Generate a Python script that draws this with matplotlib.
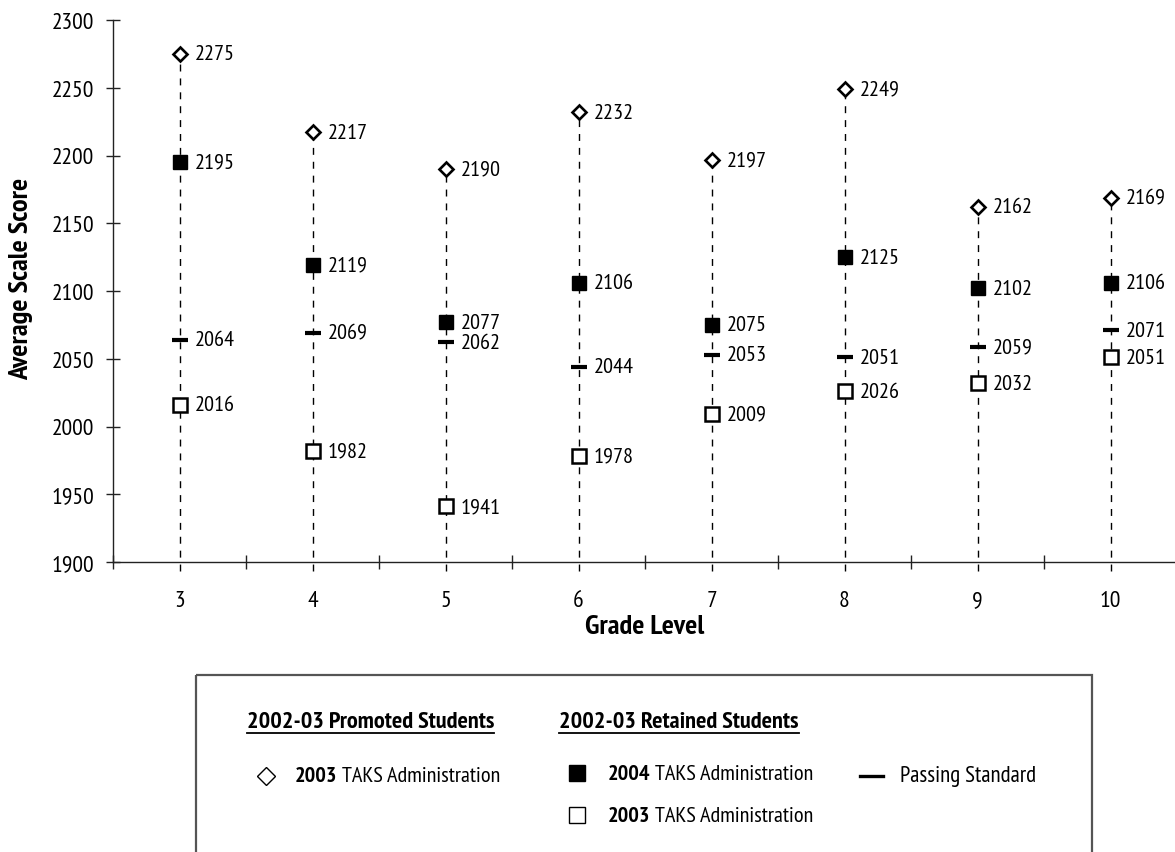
import numpy as np
import matplotlib
matplotlib.use("Agg")
import matplotlib.pyplot as plt
from matplotlib import font_manager
from matplotlib.patches import Rectangle

# pick a narrow family that has both regular and bold installed
weights = {}
for f in font_manager.fontManager.ttflist:
    if f.style == 'normal':
        weights.setdefault(f.name, set()).add(f.weight)
narrow = 'Liberation Sans'
for cand in ['Liberation Sans Narrow', 'Arial Narrow', 'PT Sans Narrow',
             'Archivo Narrow', 'Roboto Condensed', 'Barlow Semi Condensed']:
    w = weights.get(cand, set())
    if 400 in w and 700 in w:
        narrow = cand
        break
plt.rcParams['font.family'] = [narrow, 'DejaVu Sans']

# data
grades = [3, 4, 5, 6, 7, 8, 9, 10]
promoted_2003 = [2275, 2217, 2190, 2232, 2197, 2249, 2162, 2169]
retained_2004 = [2195, 2119, 2077, 2106, 2075, 2125, 2102, 2106]
passing_std = [2064, 2069, 2062, 2044, 2053, 2051, 2059, 2071]
retained_2003 = [2016, 1982, 1941, 1978, 2009, 2026, 2032, 2051]
y_ticks = [1900, 1950, 2000, 2050, 2100, 2150, 2200, 2250, 2300]

W, H = 1175, 853
fig = plt.figure(figsize=(W / 100, H / 100), dpi=100)
ax = fig.add_axes([113 / W, 1 - 563 / H, 1064 / W, 542 / H])

# dashed guide from the top marker down a bit past the axis
ax.vlines(grades, 1893, promoted_2003, colors='black', linestyles=(0, (5, 5)),
          lw=1, clip_on=False, zorder=1)

ax.plot(grades, promoted_2003, ls='none', marker='D', ms=7, mfc='white',
        mec='black', mew=1.9, zorder=3)
ax.plot(grades, retained_2004, ls='none', marker='s', ms=10, mfc='black',
        mec='black', mew=1, zorder=3)
ax.plot(grades, passing_std, ls='none', marker='_', ms=11, mew=3,
        color='black', zorder=3)
ax.plot(grades, retained_2003, ls='none', marker='s', ms=9.5, mfc='white',
        mec='black', mew=1.8, zorder=3)

for series in (promoted_2003, retained_2004, passing_std, retained_2003):
    for g, v in zip(grades, series):
        ax.annotate(str(v), (g, v), xytext=(11, 0), textcoords='offset points',
                    va='center', ha='left', fontsize=16)

ax.set_xlim(2.5, 10.5)
ax.set_ylim(1900, 2300)
ax.spines['top'].set_visible(False)
ax.spines['right'].set_visible(False)
for s in ('left', 'bottom'):
    ax.spines[s].set_color('#222222')
    ax.spines[s].set_linewidth(1)

ax.set_yticks(y_ticks)
ax.tick_params(axis='y', direction='inout', length=10, width=1, labelsize=17,
               pad=8.5, color='#222222')
ax.set_xticks(grades)
ax.set_xticklabels([str(g) for g in grades])
ax.set_xticks([g - 0.5 for g in grades] + [grades[-1] + 0.5], minor=True)
ax.tick_params(axis='x', which='major', length=0, pad=20, labelsize=17)
ax.tick_params(axis='x', which='minor', direction='inout', length=10.5,
               width=1, color='#222222')

fig.text(21 / W, 1 - 279 / H, 'Average Scale Score', rotation=90, ha='center',
         va='center', fontsize=20.5, fontweight='bold')
fig.text(645 / W, 1 - 627 / H, 'Grade Level', ha='center', va='center',
         fontsize=20.5, fontweight='bold')

# legend box drawn in pixel space
lax = fig.add_axes([0, 0, 1, 1])
lax.set_xlim(0, W)
lax.set_ylim(H, 0)
lax.set_axis_off()
lax.add_patch(Rectangle((196, 676), 1092 - 196, 200, fill=False,
                        ec='#555555', lw=1.6, clip_on=False))

headers = []
headers.append(lax.text(247, 723, '2002-03 Promoted Students', fontsize=17.5,
                        fontweight='bold', va='center', ha='left'))
headers.append(lax.text(559, 723, '2002-03 Retained Students', fontsize=17.5,
                        fontweight='bold', va='center', ha='left'))

lax.plot([266], [777], marker='D', ms=9, mfc='white', mec='black', mew=1)
lax.plot([577], [774], marker='s', ms=11.5, mfc='black', mec='black', mew=1)
lax.plot([577], [816], marker='s', ms=11.5, mfc='white', mec='black', mew=1)
lax.plot([860, 883], [777, 777], color='black', lw=2.4)


def mixed(x, y, bold, rest):
    t = lax.text(x, y, bold, fontsize=16, fontweight='bold', va='center',
                 ha='left')
    lax.annotate(rest, xy=(1, 0.5), xycoords=t, xytext=(3.5, 0),
                 textcoords='offset points', va='center', ha='left',
                 fontsize=16)


mixed(295, 777, '2003', 'TAKS Administration')
mixed(608, 775, '2004', 'TAKS Administration')
mixed(608, 817, '2003', 'TAKS Administration')
lax.text(900, 777, 'Passing Standard', fontsize=16.5, va='center', ha='left')

# underline the two headers
fig.canvas.draw()
inv = lax.transData.inverted()
for t in headers:
    bb = t.get_window_extent()
    (x0, _), (x1, _) = inv.transform([[bb.x0, bb.y0], [bb.x1, bb.y0]])
    lax.plot([x0, x1], [734, 734], color='black', lw=1.3)

fig.savefig('out.png', dpi=100)
